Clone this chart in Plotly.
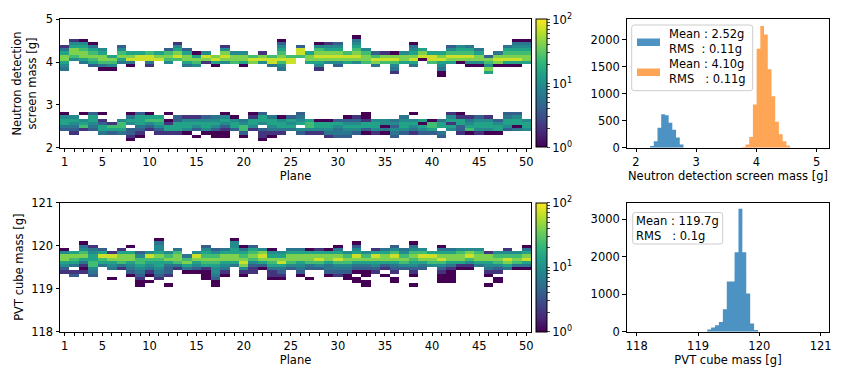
import numpy as np
import plotly.graph_objects as go

# === Data ===
PLANES = list(range(1, 51))

# each cell of the 2D histograms is stored as a level code read off its colour
# (0 = empty), the code gives the count below
LEVEL_COUNTS = [0, 1, 2, 4, 6, 9, 14, 24, 40, 70]

NDS_Y0 = 2.0
NDS_BIN = 0.075
NDS_NBINS = 40

# upper band (~4.1 g screens): strings run downward starting at bin 35
NDS_HI_TOP = 35
NDS_HI = [
    "00002468865400", "00256887500000", "00156788640000", "00014678763000", "00000568874100",
    "00000006875100", "00003578640000", "00000068941000", "00000069900000", "00000079942000",
    "00000068900000", "00000378750000", "00025689700000", "00000368864000", "00000016875000",
    "00000059820000", "00000008961000", "00002589850000", "00000058870000", "00000058861000",
    "00000007980000", "00000028950000", "00000007994000", "00135678975400", "00000007990000",
    "00003997000000", "00000068860000", "00015789865200", "00025689850000", "00035689853000",
    "00000079860000", "01456789850000", "00000578870000", "00000037984000", "00000028970000",
    "00000018975420", "00000058860000", "00014568964000", "00000689100000", "00000069970000",
    "00000068965411", "00003579860000", "00005679810000", "00004679851000", "00000468851000",
    "00000003875860", "00000048981000", "00004678961000", "00145678961000", "00145678860000",
]

# lower band (~2.5 g screens): strings run downward starting at bin 11
NDS_LO_TOP = 11
NDS_LO = [
    "0156643000", "0056543200", "0105672000", "0366543000", "0102366400",
    "0000276300", "0005776400", "0146503321", "0366643210", "0167532000",
    "0067653200", "0101266200", "0033666200", "0025665100", "0025653010",
    "0035665100", "0045653110", "0156532110", "0015663000", "0004577310",
    "0126652000", "0366503221", "0046654210", "0015664200", "0036564000",
    "0345605300", "0006775200", "0001665200", "0001665420", "0003654430",
    "0013565430", "0023565300", "0112663100", "0005665200", "0005514100",
    "0004535430", "0045665300", "0105654200", "0006165300", "0001776300",
    "0004660430", "0256265000", "0126633200", "0024567100", "0035665200",
    "0025665100", "0003566100", "0346653000", "0356614000", "0005665000",
]

PVT_Y0 = 118.0
PVT_BIN = 0.075
PVT_NBINS = 40
PVT_TOP = 28
PVT = [
    "0001588653200000", "0000687640230000", "0145786421200000", "0024566775430000", "0003697640000000",
    "0000298654001000", "0002688742000000", "0010688654310000", "0000357765432110", "0000597654210100",
    "1455687665432000", "0000578643320010", "0004788742000000", "0000047864100000", "0000598653100000",
    "0035678762111000", "0003578765543110", "0004688654210000", "1556688640000000", "0014678985210000",
    "0036787532200000", "0005898631000000", "0001568764221000", "0000568964321000", "0004688753000000",
    "0004688654310000", "0001688743001000", "0002689753000000", "0001688644310000", "0014689754320000",
    "0000578754311000", "0135698643101100", "0000578643110110", "0002698653200000", "0004688632010000",
    "0035798643201100", "0004578753000000", "0145787653210010", "0005798643000000", "0000698750000000",
    "0014689753211100", "0004688642111100", "0005788621000000", "0005897521000000", "0005788640000000",
    "0000288654210010", "0000578753201100", "0002579864000000", "0000578741000000", "0014689641000000",
]

# 1D histograms (bin centres, counts)
BLUE_MASS = [2.264, 2.326, 2.387, 2.449, 2.511, 2.572, 2.634, 2.696, 2.757]
BLUE_COUNTS = [30, 120, 370, 620, 600, 460, 330, 190, 60]
ORANGE_MASS = [3.787, 3.849, 3.910, 3.972, 4.034, 4.095, 4.157, 4.219, 4.281, 4.342, 4.404, 4.466, 4.527]
ORANGE_COUNTS = [15, 60, 200, 800, 1830, 2250, 2090, 1450, 950, 480, 250, 120, 40]
NDS_HIST_BIN = 0.0617

PVT_MASS = [119.182, 119.246, 119.309, 119.373, 119.437, 119.501, 119.564,
            119.628, 119.692, 119.755, 119.819, 119.883, 119.947]
PVT_COUNTS = [60, 110, 170, 260, 600, 1340, 1340, 2120, 3280, 2120, 1020, 220, 45]
PVT_HIST_BIN = 0.0637

BLUE_LABEL = "Mean : 2.52g<br>RMS\u00a0\u00a0: 0.11g"
ORANGE_LABEL = "Mean : 4.10g<br>RMS\u00a0\u00a0\u00a0: 0.11g"
PVT_LABEL = "Mean : 119.7g<br>RMS\u00a0\u00a0\u00a0: 0.1g"

# matplotlib tab:blue at alpha 0.8 and tab:orange at alpha 0.7, over white
BLUE = "rgb(76,146,195)"
ORANGE = "rgb(255,165,86)"

# === Build 2D histograms ===
def build_z(bands, nbins):
    z = np.full((nbins, len(PLANES)), np.nan)
    for top, rows in bands:
        for j, s in enumerate(rows):
            for i, ch in enumerate(s):
                n = LEVEL_COUNTS[int(ch)]
                if n:
                    z[top - i, j] = np.log10(n)
    return z

nds_z = build_z([(NDS_HI_TOP, NDS_HI), (NDS_LO_TOP, NDS_LO)], NDS_NBINS)
pvt_z = build_z([(PVT_TOP, PVT)], PVT_NBINS)
nds_y = [NDS_Y0 + (k + 0.5) * NDS_BIN for k in range(NDS_NBINS)]
pvt_y = [PVT_Y0 + (k + 0.5) * PVT_BIN for k in range(PVT_NBINS)]

# step outline of a histogram so the bars join without seams
def step_outline(centres, counts, width):
    xs, ys = [centres[0] - width / 2], [0]
    for c, n in zip(centres, counts):
        xs += [c - width / 2, c + width / 2]
        ys += [n, n]
    xs.append(centres[-1] + width / 2)
    ys.append(0)
    return xs, ys

# === Figure ===
W, H = 847, 381
FONT = "DejaVu Sans"
FS = 11.5

def fx(x):
    return x / W

def fy(y):
    return 1 - y / H

fig = go.Figure()
fig.add_trace(go.Heatmap(x=PLANES, y=nds_y, z=nds_z, coloraxis="coloraxis",
                         xaxis="x", yaxis="y", hoverongaps=False))
fig.add_trace(go.Heatmap(x=PLANES, y=pvt_y, z=pvt_z, coloraxis="coloraxis2",
                         xaxis="x3", yaxis="y3", hoverongaps=False))
for centres, counts, width, color, xa, ya in [
    (BLUE_MASS, BLUE_COUNTS, NDS_HIST_BIN, BLUE, "x2", "y2"),
    (ORANGE_MASS, ORANGE_COUNTS, NDS_HIST_BIN, ORANGE, "x2", "y2"),
    (PVT_MASS, PVT_COUNTS, PVT_HIST_BIN, BLUE, "x4", "y4"),
]:
    xs, ys = step_outline(centres, counts, width)
    fig.add_trace(go.Scatter(x=xs, y=ys, mode="lines", fill="toself", fillcolor=color,
                             line=dict(width=0, color=color), xaxis=xa, yaxis=ya))

axis_style = dict(showline=True, mirror=True, linecolor="black", linewidth=1,
                  ticks="outside", ticklen=3.5, tickwidth=0.8, tickcolor="black",
                  showgrid=False, zeroline=False, automargin=False,
                  tickfont=dict(family=FONT, size=FS, color="black"))

plane_text = [str(p) if (p == 1 or p % 5 == 0) else "" for p in PLANES]

left_dom = [fx(60), fx(531)]
right_dom = [fx(626.7), fx(829.3)]
top_dom = [fy(147.7), fy(19.3)]
bot_dom = [fy(331.7), fy(202.7)]

minor = [np.log10(m) for m in range(2, 10)] + [1 + np.log10(m) for m in range(2, 10)]
cb_vals = [0, 1, 2] + minor
cb_text = ["10<sup>0</sup>", "10<sup>1</sup>", "10<sup>2</sup>"] + [""] * len(minor)

def colorbar(dom):
    return dict(x=fx(536), xanchor="left", y=(dom[0] + dom[1]) / 2, yanchor="middle",
                len=dom[1] - dom[0], lenmode="fraction", thickness=11,
                thicknessmode="pixels", outlinewidth=1, outlinecolor="black",
                xpad=0, ypad=0, ticks="outside", ticklen=3, tickwidth=0.8,
                tickvals=cb_vals, ticktext=cb_text,
                tickfont=dict(family=FONT, size=FS, color="black"))

def title(text, standoff):
    return dict(text=text, standoff=standoff, font=dict(family=FONT, size=FS, color="black"))

fig.update_layout(
    width=W, height=H, margin=dict(l=0, r=0, t=0, b=0),
    paper_bgcolor="white", plot_bgcolor="white", showlegend=False,
    font=dict(family=FONT, size=FS, color="black"),
    coloraxis=dict(colorscale="Viridis", cmin=0, cmax=2, colorbar=colorbar(top_dom)),
    coloraxis2=dict(colorscale="Viridis", cmin=0, cmax=2, colorbar=colorbar(bot_dom)),
    xaxis=dict(axis_style, domain=left_dom, anchor="y", range=[0.5, 50.5],
               tickvals=PLANES, ticktext=plane_text, title=title("Plane", 2)),
    yaxis=dict(axis_style, domain=top_dom, anchor="x", range=[2, 5],
               tickvals=[2, 3, 4, 5],
               title=title("Neutron detection<br>screen mass [g]", 6)),
    xaxis2=dict(axis_style, domain=right_dom, anchor="y2", range=[1.845, 5.21],
                tickvals=[2, 3, 4, 5],
                title=title("Neutron detection screen mass [g]", 2)),
    yaxis2=dict(axis_style, domain=top_dom, anchor="x2", range=[0, 2373],
                tickvals=[0, 500, 1000, 1500, 2000]),
    xaxis3=dict(axis_style, domain=left_dom, anchor="y3", range=[0.5, 50.5],
                tickvals=PLANES, ticktext=plane_text, title=title("Plane", 2)),
    yaxis3=dict(axis_style, domain=bot_dom, anchor="x3", range=[118, 121],
                tickvals=[118, 119, 120, 121], title=title("PVT cube mass [g]", 5)),
    xaxis4=dict(axis_style, domain=right_dom, anchor="y4", range=[117.836, 121.142],
                tickvals=[118, 119, 120, 121], title=title("PVT cube mass [g]", 2)),
    yaxis4=dict(axis_style, domain=bot_dom, anchor="x4", range=[0, 3443],
                tickvals=[0, 1000, 2000, 3000]),
)

# === Legend boxes (drawn by hand, matplotlib style) ===
def rounded_box(x0, y0, x1, y1, r=2.5):
    a, b, c, d = fx(x0), fy(y1), fx(x1), fy(y0)
    rx, ry = r / W, r / H
    path = (f"M {a + rx},{b} L {c - rx},{b} Q {c},{b} {c},{b + ry} "
            f"L {c},{d - ry} Q {c},{d} {c - rx},{d} L {a + rx},{d} "
            f"Q {a},{d} {a},{d - ry} L {a},{b + ry} Q {a},{b} {a + rx},{b} Z")
    return dict(type="path", path=path, xref="paper", yref="paper",
                line=dict(color="#cccccc", width=1), fillcolor="rgba(255,255,255,0.8)")

def patch(x0, y0, x1, y1, color):
    return dict(type="rect", xref="paper", yref="paper",
                x0=fx(x0), x1=fx(x1), y0=fy(y1), y1=fy(y0),
                line_width=0, fillcolor=color)

def label(x, y, text):
    return dict(x=fx(x), y=fy(y), xref="paper", yref="paper", text=text,
                showarrow=False, xanchor="left", yanchor="middle", align="left",
                font=dict(family=FONT, size=FS, color="black"))

fig.update_layout(
    shapes=[
        rounded_box(631.7, 25, 752.7, 90.7),
        patch(637, 38.5, 660, 46, BLUE),
        patch(637, 68.5, 660, 76, ORANGE),
        rounded_box(632.7, 212.5, 722.7, 244),
    ],
    annotations=[
        label(667, 41.5, BLUE_LABEL),
        label(667, 71.7, ORANGE_LABEL),
        label(634, 228.2, PVT_LABEL),
    ],
)

# the page body keeps its default 8px margin otherwise
fig.write_html("out.html", config={"displayModeBar": False},
               post_script="document.body.style.margin = '0';")
